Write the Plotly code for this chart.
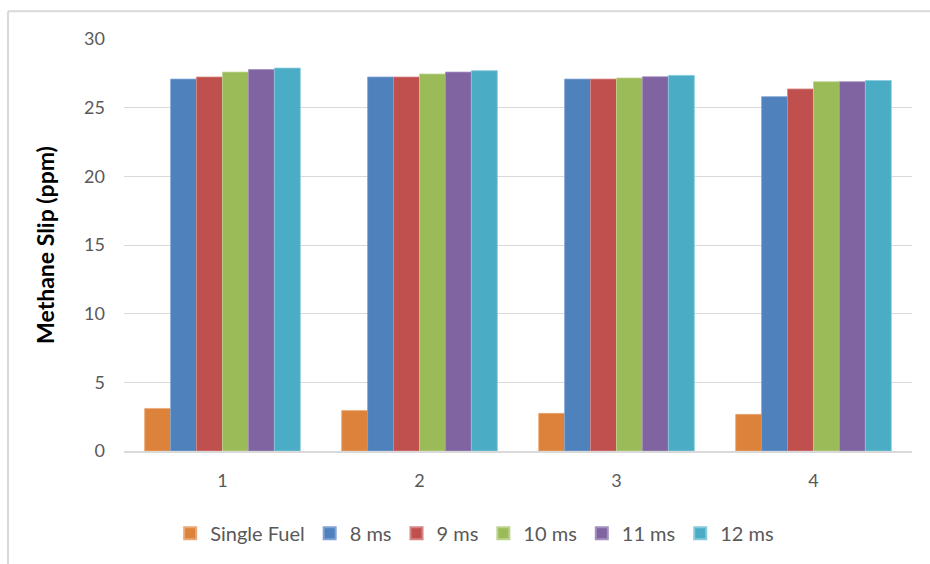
import plotly.graph_objects as go

categories = ["1", "2", "3", "4"]
series_names = ["Single Fuel", "8 ms", "9 ms", "10 ms", "11 ms", "12 ms"]
single_fuel = [3.1, 2.94, 2.74, 2.67]
ms8 = [27.08, 27.23, 27.08, 25.8]
ms9 = [27.23, 27.23, 27.08, 26.36]
ms10 = [27.59, 27.45, 27.16, 26.89]
ms11 = [27.78, 27.59, 27.25, 26.89]
ms12 = [27.88, 27.69, 27.35, 26.98]
y_ticks = [0, 5, 10, 15, 20, 25, 30]

colors = ["#DD823B", "#4F81BD", "#C0504D", "#9BBB59", "#8064A2", "#4BACC6"]
border_colors = ["#E9A876", "#7FA3D3", "#D58583", "#BCD48E", "#A590C0", "#87CADB"]
values = [single_fuel, ms8, ms9, ms10, ms11, ms12]

fig = go.Figure()
for name, vals, c, bc in zip(series_names, values, colors, border_colors):
    fig.add_trace(go.Bar(
        x=categories, y=vals, name=name,
        marker=dict(color=c, line=dict(color=bc, width=0.8)),
    ))

font_family = "Lato, 'Open Sans', sans-serif"

fig.update_layout(
    width=930, height=564,
    margin=dict(l=124, r=18, t=39, b=112),
    paper_bgcolor="white", plot_bgcolor="white",
    barmode="group", bargap=0.21, bargroupgap=0,
    font=dict(family=font_family, size=18, color="#595959"),
    showlegend=True,
    legend=dict(
        orientation="h", x=0.445, xanchor="center", y=-0.197, yanchor="middle",
        font=dict(size=20, color="#595959"),
        itemsizing="constant", traceorder="normal",
    ),
    xaxis=dict(
        type="category", categoryarray=categories,
        showgrid=False, showline=True, linecolor="#d9d9d9", linewidth=1.5,
        ticks="", ticklabelstandoff=13,
        tickfont=dict(size=18, color="#595959"),
        automargin=False,
    ),
    yaxis=dict(
        range=[0, 30], tickvals=y_ticks,
        showgrid=True, gridcolor="#d9d9d9", gridwidth=1,
        zeroline=False, showline=False, ticks="",
        ticklabelstandoff=18,
        tickfont=dict(size=18, color="#595959"),
        title=dict(text="<b>Methane Slip (ppm)</b>", font=dict(size=23, color="black"), standoff=23),
        automargin=False,
    ),
    shapes=[
        dict(type="line", xref="paper", yref="paper",
             x0=-0.1472, x1=-0.1472, y0=-0.4, y1=1.0674,
             line=dict(color="#d9d9d9", width=2), layer="below"),
        dict(type="line", xref="paper", yref="paper",
             x0=-0.1472, x1=1.2, y0=1.0674, y1=1.0674,
             line=dict(color="#d9d9d9", width=2), layer="below"),
    ],
)

fig.write_html(
    "out.html",
    config={"displayModeBar": False},
    post_script="document.body.style.margin='0';document.body.style.overflow='hidden';",
)
